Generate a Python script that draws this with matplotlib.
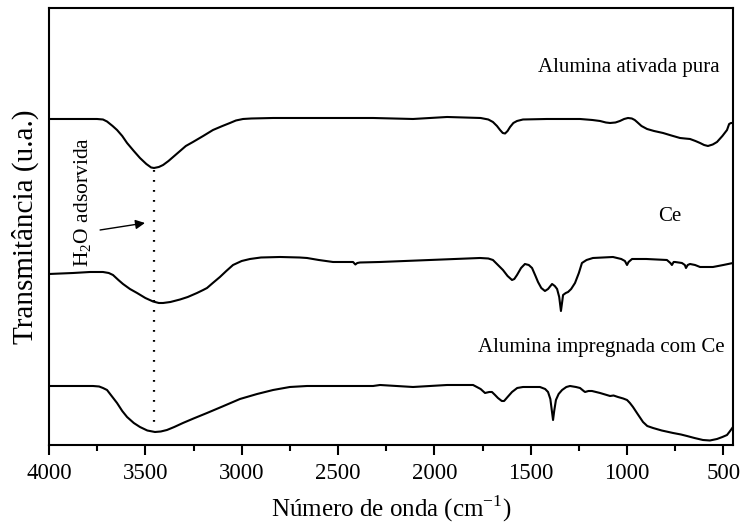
import matplotlib
matplotlib.use("Agg")
import matplotlib.pyplot as plt
from matplotlib.ticker import MultipleLocator

plt.rcParams['font.family'] = ['Liberation Serif', 'DejaVu Serif']
plt.rcParams['mathtext.fontset'] = 'custom'
plt.rcParams['mathtext.rm'] = 'Liberation Serif'

# Alumina ativada pura (top curve), arbitrary offset units
wn_pura = [4000, 3751, 3720, 3699, 3670, 3647, 3620, 3595, 3560, 3528, 3495, 3470, 3455, 3430,
           3408, 3380, 3350, 3320, 3290, 3253, 3200, 3149, 3100, 3061, 3030, 2993, 2950,
           2837, 2600, 2318, 2111, 1934, 1760, 1720, 1696, 1675, 1659, 1645, 1633, 1620,
           1607, 1590, 1571, 1540, 1416, 1300, 1244, 1180, 1140, 1110, 1088, 1060, 1037,
           1015, 995, 975, 960, 948, 925, 896, 860, 813, 770, 725, 700, 673, 645, 621,
           600, 580, 555, 533, 505, 481, 470, 460, 450]
t_pura = [410, 410, 409.5, 407.5, 403, 399, 393, 386, 378, 371, 365, 361.5, 361, 362,
          364, 368, 373, 378, 383, 387, 393, 399, 403, 406, 408.5, 410, 410.5,
          411, 411, 411, 410, 412, 411, 409.5, 407, 403, 399, 396, 395.5, 398,
          402, 406, 408, 409.5, 410, 410, 410, 409, 408, 406.5, 406, 406.5, 408,
          410, 411, 410.5, 409, 407, 403, 400, 398, 396, 393.5, 391, 390.5, 390, 388, 386,
          384, 383, 384.5, 387, 393, 399, 405, 406, 406]

# Ce
wn_ce = [4000, 3875, 3787, 3720, 3690, 3668, 3640, 3616, 3580, 3543, 3500, 3460, 3430, 3408,
         3370, 3320, 3280, 3232, 3200, 3180, 3150, 3113, 3080, 3045, 3000, 2957, 2900,
         2801, 2700, 2661, 2600, 2526, 2422, 2410, 2400, 2386, 2282, 2023, 1763, 1720,
         1696, 1670, 1644, 1620, 1597, 1585, 1571, 1550, 1530, 1510, 1493, 1475, 1462,
         1445, 1426, 1410, 1389, 1375, 1363, 1352, 1343, 1336, 1332, 1318, 1306, 1290,
         1270, 1250, 1234, 1210, 1177, 1073, 1030, 1011, 1000, 992, 974, 900, 793, 775,
         767, 758, 751, 715, 700, 694, 685, 673, 647, 621, 554, 500, 450]
t_ce = [255, 256, 257, 257, 256, 254, 249, 245, 240, 236, 231, 227.5, 226, 226,
        227, 229.5, 232, 236, 239, 241, 246, 252, 258, 264, 268, 270, 271.5,
        272, 271.5, 271, 269, 267, 267, 264.5, 266, 266.5, 267, 269, 271, 270.5,
        269, 264, 259, 253, 249, 250, 254, 261, 265, 264, 261, 253, 247,
        241, 238, 240, 245, 243, 240, 232, 218, 228, 234, 236, 237, 240,
        246, 256, 266, 269, 271, 272, 270, 268, 264, 267, 270, 270, 269, 266,
        264, 267, 267, 266, 264, 261, 264, 265, 264, 262, 262, 264, 266]

# Alumina impregnada com Ce
wn_imp = [4000, 3772, 3740, 3720, 3699, 3675, 3647, 3620, 3595, 3560, 3528, 3490, 3450, 3420,
          3388, 3350, 3305, 3250, 3180, 3100, 3009, 2920, 2837, 2750, 2661, 2318, 2282,
          2111, 1934, 1799, 1760, 1737, 1715, 1701, 1685, 1670, 1650, 1638, 1620, 1597,
          1570, 1540, 1452, 1425, 1410, 1398, 1390, 1384, 1378, 1369, 1355, 1337, 1315,
          1296, 1265, 1244, 1225, 1218, 1200, 1182, 1140, 1088, 1070, 1047, 1020, 1000,
          985, 969, 945, 917, 895, 865, 820, 761, 720, 689, 650, 606, 570, 533, 505,
          481, 465, 450]
t_imp = [143, 143, 142.5, 141, 139, 133, 126, 118, 112, 106, 102, 98.5, 97, 97.5,
         99, 102, 106, 110.5, 116, 122.5, 130, 135, 139, 142, 143, 143, 144,
         142, 144, 144, 140, 136, 137, 137, 134, 131, 128, 128, 132, 137,
         141, 142, 142, 140, 137, 130, 118, 109, 118, 129, 135, 139, 142,
         143, 142, 141, 138, 137, 138, 138, 136, 133, 133.5, 132, 130.5, 129,
         126, 122, 115, 107, 103, 101, 98.5, 96, 94.5, 93, 91, 89, 88.5, 90, 92,
         94, 98, 102]

xticks = [4000, 3500, 3000, 2500, 2000, 1500, 1000, 500]
x_dotted = 3455

fig = plt.figure(figsize=(7.44, 5.29), dpi=100)
ax = fig.add_axes([0.0659, 0.1588, 0.9193, 0.8261])

for wn, t in [(wn_pura, t_pura), (wn_ce, t_ce), (wn_imp, t_imp)]:
    ax.plot(wn, t, color='black', lw=1.5, solid_joinstyle='round')

ax.plot([x_dotted, x_dotted], [359, 106], color='black', lw=1.6,
        linestyle=(0, (0.8, 3.7)))

ax.annotate('', xy=(3502, 306), xytext=(3735, 299),
            arrowprops=dict(arrowstyle='-|>', color='black', lw=1.0,
                            mutation_scale=14, shrinkA=0, shrinkB=0))
ax.text(3824, 327, r'H$_2$O adsorvida', rotation=90, ha='center', va='center',
        fontsize=15.5)

ax.text(517, 461, 'Alumina ativada pura', ha='right', va='center', fontsize=15)
ax.text(777, 312, 'Ce', ha='center', va='center', fontsize=15)
ax.text(491, 181, 'Alumina impregnada com Ce', ha='right', va='center', fontsize=15)

ax.set_xlim(4000, 450)
ax.set_ylim(84, 521)
ax.set_xticks(xticks)
ax.xaxis.set_minor_locator(MultipleLocator(250))
ax.set_yticks([])
ax.tick_params(axis='x', which='major', direction='out', length=7, width=1.5,
               labelsize=16.5, pad=6, top=False)
ax.tick_params(axis='x', which='minor', direction='out', length=4, width=1.5, top=False)
for s in ax.spines.values():
    s.set_linewidth(1.5)

ax.set_xlabel('Número de onda (cm$^{-1}$)', fontsize=18, labelpad=7)
ax.set_ylabel('Transmitância (u.a.)', fontsize=21, labelpad=7)

fig.savefig('out.png', dpi=100)
